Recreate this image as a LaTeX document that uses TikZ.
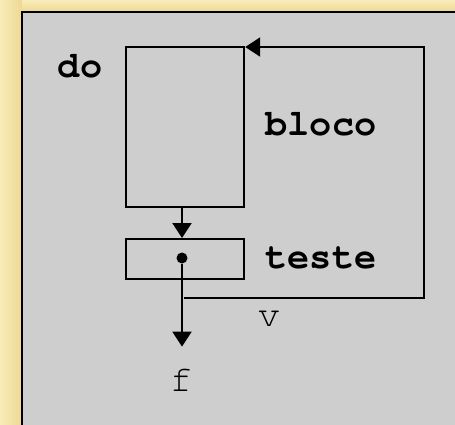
\documentclass[tikz,border=0pt]{standalone}
\usepackage{fontspec}
\setmonofont{texgyrecursor}[Extension=.otf, UprightFont=*-regular, BoldFont=*-bold]
\usetikzlibrary{arrows.meta}
\definecolor{fundo}{RGB}{249,236,186}
\definecolor{fundoesc}{RGB}{238,216,146}
\definecolor{painel}{RGB}{206,206,206}
\begin{document}
\begin{tikzpicture}[x=1pt,y=-1pt]
	\tikzset{
		caixa/.style={draw, line width=2.2pt, inner sep=0pt, anchor=north west},
		rotulo/.style={font=\ttfamily\bfseries\fontsize{37}{37}\selectfont, inner sep=0pt},
		letra/.style={font=\ttfamily\fontsize{37}{37}\selectfont, inner sep=0pt},
		seta/.style={line width=2.2pt, -{Triangle[length=15pt,width=19pt]}},
		ponto/.style={circle, fill=black, minimum size=11pt, inner sep=0pt},
	}
	\useasboundingbox (0,0) rectangle (455,424);
	% background and slide panel
	\fill[fundo] (0,0) rectangle (455,424);
	\shade[left color=fundo, right color=fundoesc] (0,0) rectangle (22,424);
	\shade[top color=fundo, bottom color=fundoesc] (22,0) rectangle (455,12);
	\draw[fill=painel, line width=1.6pt] (22,12) rectangle (470,440);
	
	% the two boxes
	\node[caixa, minimum width=118pt, minimum height=160pt] (bloco) at (125,46) {};
	\node[caixa, minimum width=118pt, minimum height=40pt] (teste) at (125,238) {};
	\node[ponto] (dot) at (182,258) {};
	
	% labels
	\node[rotulo] (do) at (80,66) {do};
	\node[rotulo] (lbloco) at (321,124) {bloco};
	\node[rotulo] (lteste) at (321,258) {teste};
	\node[letra] (v) at (269,319) {v};
	\node[letra] (f) at (181,380) {f};
	
	% loop back to the block
	\coordinate (v0) at (184,298);
	\coordinate (v1) at (424,298);
	\coordinate (v2) at (424,47);
	\draw[seta] (bloco.south -| dot) -- (teste.north -| dot);
	\draw[seta] (v0) -- (v1) -- (v2) -- (bloco.north east |- v2);
	\draw[seta, shorten >=22pt] (dot) -- (f.north -| dot);
\end{tikzpicture}
\end{document}
